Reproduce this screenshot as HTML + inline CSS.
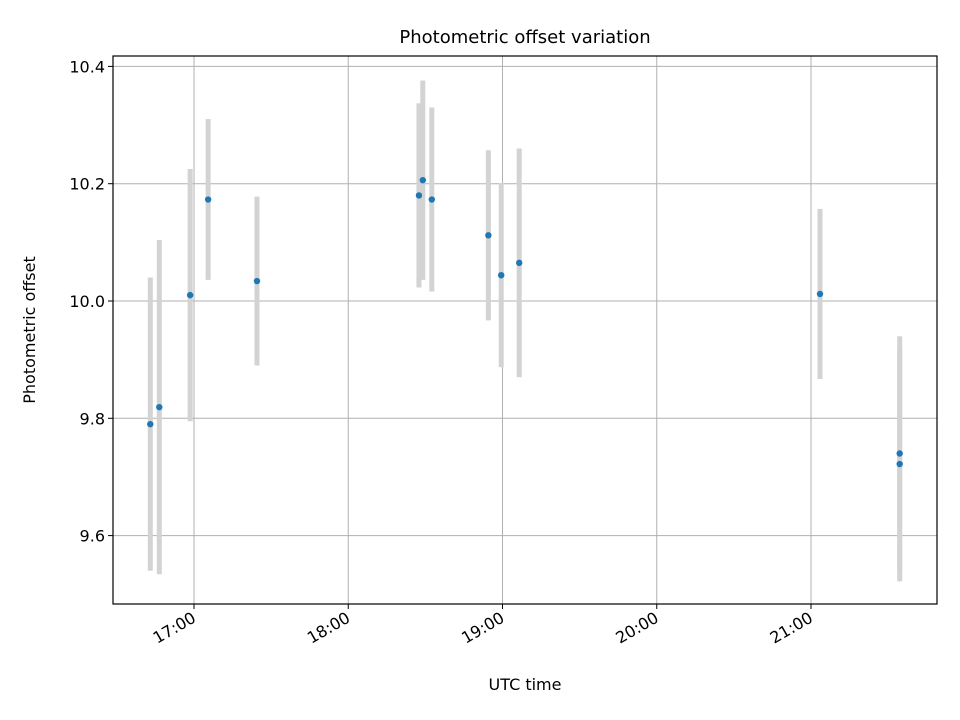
<!DOCTYPE html>
<html><head><meta charset="utf-8"><style>
body{margin:0;background:#fff}
svg{display:block;font-family:"DejaVu Sans","Liberation Sans",sans-serif}
</style></head><body>
<svg id="c" width="960" height="720">
<rect x="0" y="0" width="960" height="720" fill="#fff"/>
<g id="grid"></g><g id="bars"></g><g id="pts"></g><g id="axes"></g>
<text x="525" y="43" text-anchor="middle" font-size="18">Photometric offset variation</text>
<text x="525" y="690" text-anchor="middle" font-size="16">UTC time</text>
<text transform="translate(35,330) rotate(-90)" text-anchor="middle" font-size="16">Photometric offset</text>
</svg>
<script>
const times=["16:43","16:46.5","16:58.5","17:05.5","17:24.5","18:27.5","18:29","18:32.5","18:54.5","18:59.5","19:06.5","21:03.5","21:34.5","21:34.5"];
const values=[9.79,9.819,10.01,10.173,10.034,10.18,10.206,10.173,10.112,10.044,10.065,10.012,9.74,9.722];
const errors=[0.25,0.285,0.215,0.137,0.144,0.157,0.17,0.157,0.145,0.157,0.195,0.145,0.2,0.2];
const yTicks=[9.6,9.8,10.0,10.2,10.4];
const xTicks=["17:00","18:00","19:00","20:00","21:00"];
const L=113,R=937,T=56,B=604;
function toMin(s){const p=s.split(":");return +p[0]*60+parseFloat(p[1]);}
function xs(s){return 194+(toMin(s)-1020)*(154.25/60);}
function ys(v){return 301-(v-10)*586.5;}
const NS="http://www.w3.org/2000/svg";
function mk(tag,attrs,parent){const e=document.createElementNS(NS,tag);for(const k in attrs)e.setAttribute(k,attrs[k]);document.getElementById(parent).appendChild(e);return e;}
yTicks.forEach(v=>{const y=ys(v);
 let g=mk("line",{x1:L,x2:R,y1:y,y2:y,stroke:"#b0b0b0","stroke-width":1},"grid");
 
 
 mk("line",{x1:L-5,x2:L,y1:y,y2:y,stroke:"#000"},"axes");
 let t=mk("text",{x:L-8,y:y+6,"text-anchor":"end","font-size":16},"axes");t.textContent=v.toFixed(1);
 
 
});
xTicks.forEach(s=>{const x=xs(s);
 let g=mk("line",{x1:x,x2:x,y1:T,y2:B,stroke:"#b0b0b0","stroke-width":1},"grid");
 
 
 mk("line",{x1:x,x2:x,y1:B,y2:B+5,stroke:"#000"},"axes");
 let t=mk("text",{transform:`translate(${x+3},${B+17}) rotate(-30)`,"text-anchor":"end","font-size":16},"axes");t.textContent=s;
 
 
});
let fr=mk("rect",{x:L,y:T,width:R-L,height:B-T,fill:"none",stroke:"#000","stroke-width":1.2},"axes");


times.forEach((s,i)=>{const x=xs(s);
 let b=mk("line",{x1:x,x2:x,y1:ys(values[i]+errors[i]),y2:ys(values[i]-errors[i]),stroke:"#d3d3d3","stroke-width":5},"bars");
 
 
 let p=mk("circle",{cx:x,cy:ys(values[i]),r:3.2,fill:"#1f77b4"},"pts");
 
 
});
</script>
</body></html>
